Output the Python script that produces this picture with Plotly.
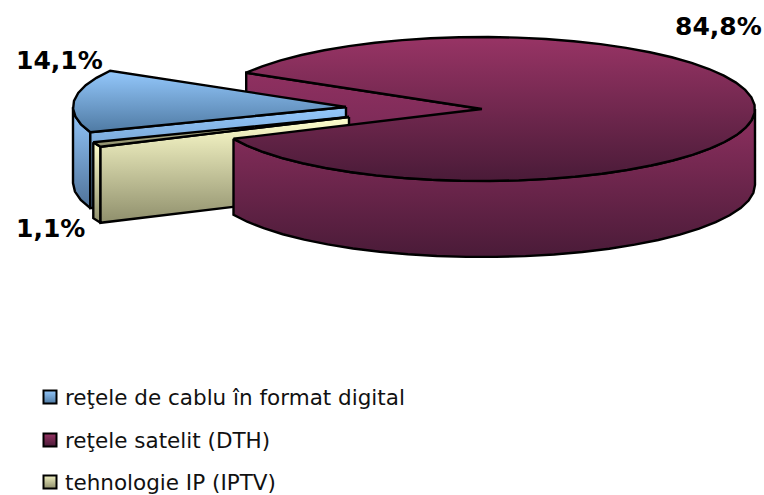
import numpy as np
import plotly.graph_objects as go

W, H = 764, 495

CATEGORIES = ["reţele de cablu în format digital", "reţele satelit (DTH)", "tehnologie IP (IPTV)"]
SHARES = [14.1, 84.8, 1.1]

# pie geometry in pixels
START_ANGLE = 200.5
RX, RY, DEPTH = 273, 72, 76
CENTERS = [(346, 107), (482, 109), (349, 117)]

# (top colour, bottom colour)
TOP_COLORS = [("#94C8FC", "#4F7AA3"), ("#983465", "#4A1B38"), ("#C9C99F", "#8F8F6C")]
SIDE_COLORS = [("#94C8FC", "#4F7299"), ("#8F3060", "#4A1B38"), ("#FFFFCE", "#8F8F6C")]
SWATCH_COLORS = [("#94C8FC", "#4F7AA3"), ("#983465", "#4A1B38"), ("#F0F0C0", "#8F8F6C")]

LABEL_POS = [(59, 60), (718, 26), (50, 228)]
LEGEND_Y = [397, 440, 482]


def arc(center, a0, a1, step=6.0):
    n = max(2, int(abs(a1 - a0) / step) + 1)
    t = np.radians(np.linspace(a0, a1, n))
    return center[0] + RX * np.cos(t), center[1] - RY * np.sin(t)


def add_face(fig, x, y, colors):
    x, y = list(x) + [x[0]], list(y) + [y[0]]
    fig.add_trace(go.Scatter(
        x=x, y=y, mode="lines", fill="toself",
        fillgradient=dict(type="vertical", colorscale=[[0, colors[1]], [1, colors[0]]]),
        line=dict(color="black", width=2.4),
        showlegend=False, hoverinfo="skip",
    ))


def side_face(fig, center, a0, a1, colors):
    ax, ay = arc(center, a0, a1)
    x = np.concatenate([ax, ax[::-1]])
    y = np.concatenate([ay, ay[::-1] + DEPTH])
    add_face(fig, x, y, colors)


def radial_face(fig, center, a, colors):
    ax, ay = arc(center, a, a, 1)
    x = [center[0], ax[0], ax[0], center[0]]
    y = [center[1], ay[0], ay[0] + DEPTH, center[1] + DEPTH]
    add_face(fig, x, y, colors)


def top_face(fig, center, a0, a1, colors):
    ax, ay = arc(center, a0, a1)
    add_face(fig, [center[0]] + list(ax), [center[1]] + list(ay), colors)


# slices run clockwise from the start angle
spans = []
a = START_ANGLE
for s in SHARES:
    spans.append((a, a - s * 3.6))
    a -= s * 3.6

fig = go.Figure()

# back cut face of the big slice goes first, everything else sits on it
radial_face(fig, CENTERS[1], spans[1][0], ("#8F3060", "#6A2650"))

# cable slice
a0, a1 = spans[0]
side_face(fig, CENTERS[0], 180, a0, SIDE_COLORS[0])
radial_face(fig, CENTERS[0], a0, SIDE_COLORS[0])
top_face(fig, CENTERS[0], a0, a1, TOP_COLORS[0])

# IPTV slice
a0, a1 = spans[2]
side_face(fig, CENTERS[2], a1, a0, SIDE_COLORS[2])
radial_face(fig, CENTERS[2], a0, SIDE_COLORS[2])
top_face(fig, CENTERS[2], a0, a1, TOP_COLORS[2])

# satellite slice front, then its top
a0, a1 = spans[1]
side_face(fig, CENTERS[1], a1 + 360, 360, SIDE_COLORS[1])
top_face(fig, CENTERS[1], a0, a1, TOP_COLORS[1])

# percent labels
for share, (lx, ly) in zip(SHARES, LABEL_POS):
    fig.add_annotation(
        x=lx, y=ly, text=f"<b>{share:.1f}%</b>".replace(".", ","), showarrow=False,
        font=dict(family="DejaVu Sans", size=25, color="black"),
    )

# legend swatches with their labels
for name, ly, colors in zip(CATEGORIES, LEGEND_Y, SWATCH_COLORS):
    fig.add_trace(go.Scatter(
        x=[50], y=[ly], mode="markers",
        marker=dict(
            symbol="square", size=13, color=colors[0],
            gradient=dict(type="vertical", color=colors[1]),
            line=dict(color="black", width=2),
        ),
        showlegend=False, hoverinfo="skip", cliponaxis=False,
    ))
    fig.add_annotation(
        x=63, y=ly, text=name, xanchor="left", showarrow=False,
        font=dict(family="DejaVu Sans", size=21.5, color="#111111"),
    )

fig.update_layout(
    width=W, height=H,
    margin=dict(l=0, r=0, t=0, b=0),
    paper_bgcolor="white", plot_bgcolor="white",
    showlegend=False,
    xaxis=dict(range=[0, W], visible=False, fixedrange=True),
    yaxis=dict(range=[H, 0], visible=False, fixedrange=True),
)

fig.write_html(
    "out.html",
    config=dict(displayModeBar=False),
    post_script="document.body.style.margin = '0';",
)
